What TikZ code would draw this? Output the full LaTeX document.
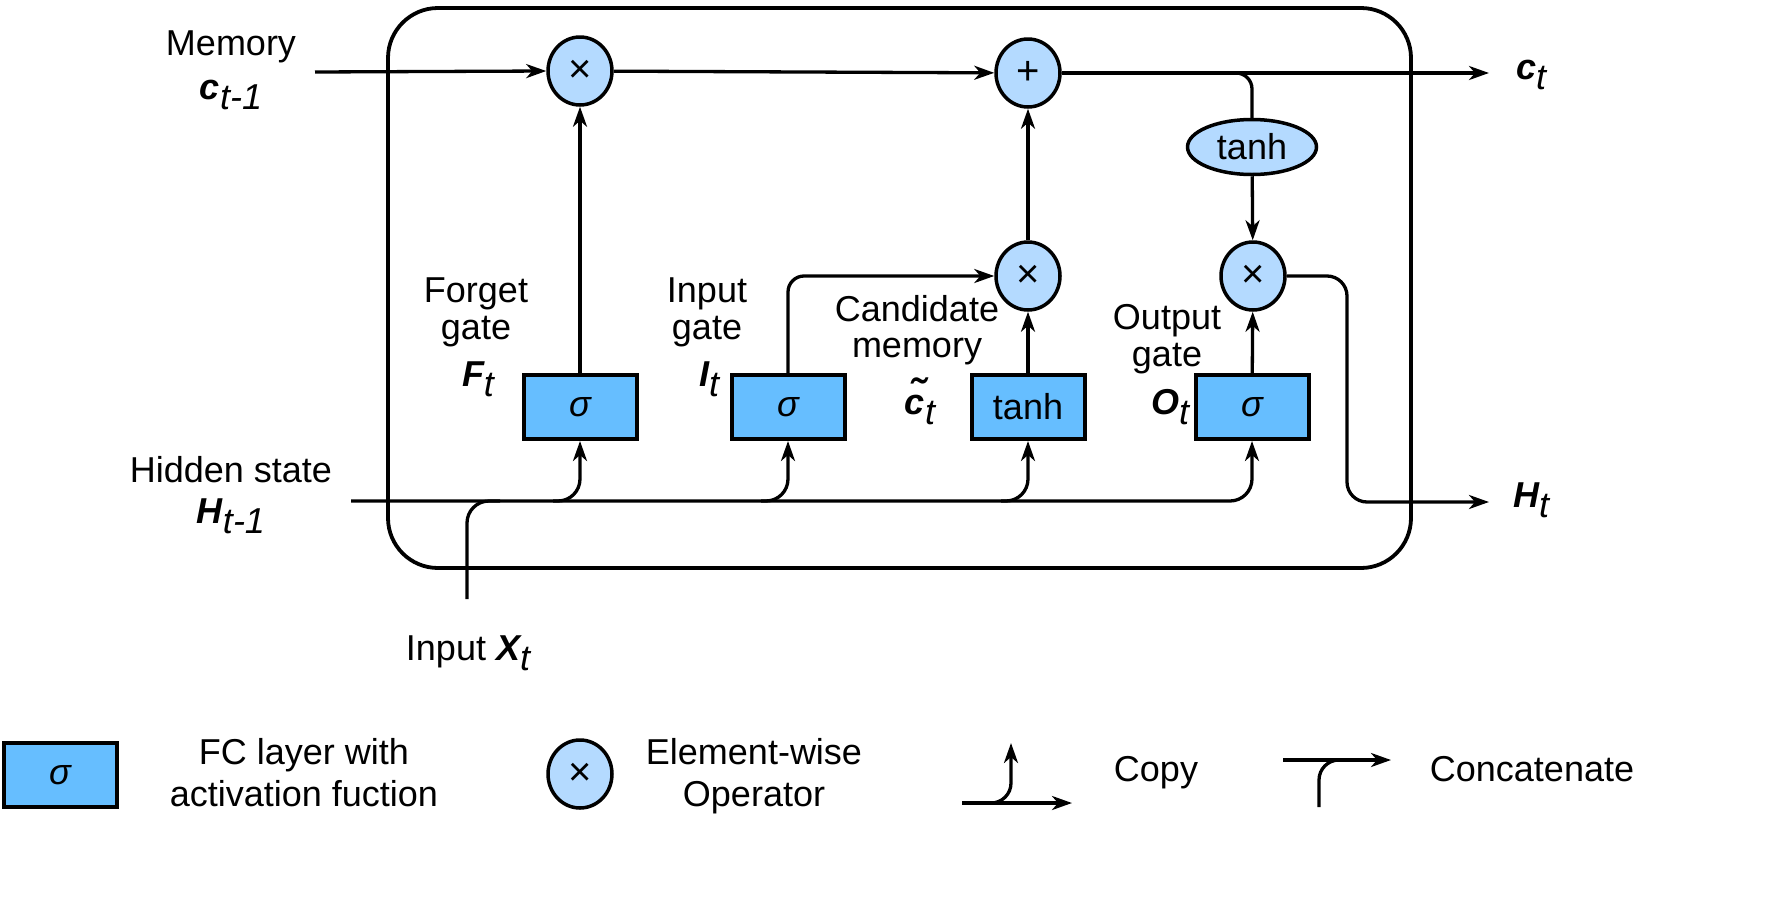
\documentclass[tikz,border=0pt]{standalone}
\usepackage{fontspec}
\setmainfont{Liberation Sans}
\usetikzlibrary{arrows.meta,shapes.geometric,calc}
\definecolor{boxblue}{RGB}{102,190,255}
\definecolor{opblue}{RGB}{180,218,255}
\newcommand{\lbl}[2]{{\bfseries\itshape #1}\raisebox{-0.3em}{\itshape #2}}
\newcommand{\tildec}{\rlap{\raisebox{0.12em}{\kern0.12em\fontsize{44}{44}\selectfont ˜}}c}
\begin{document}
\begin{tikzpicture}[x=1pt,y=-1pt,
  font=\fontsize{36}{41}\selectfont,
  line width=3.3pt,
  arr/.style={-{Stealth[length=20pt,width=14pt,inset=6pt]}},
  layer/.style={draw,line width=4pt,fill=boxblue,minimum width=113pt,minimum height=64pt,inner sep=0pt},
  op/.style={draw,ellipse,fill=opblue,line width=3.5pt,minimum width=64pt,minimum height=68pt,inner sep=0pt},
  txt/.style={inner sep=0pt,anchor=base},
  opsym/.style={font=\fontsize{40}{40}\selectfont}]
\useasboundingbox (0,0) rectangle (1765,919);

% cell frame
\node[draw,line width=3.8pt,rounded corners=50pt,minimum width=1023pt,minimum height=560pt,inner sep=0pt] (cell) at (899.5,288) {};

% operators
\node[op,opsym] (mulF) at (580,71) {×};
\node[op,opsym] (add) at (1028,73) {+};
\node[op,opsym] (mulI) at (1028,276) {×};
\node[op,opsym] (mulO) at (1253,276) {×};
\node[op,minimum width=129pt,minimum height=55pt] (tanhC) at (1252,147) {tanh};

% layers
\node[layer] (fgate) at (580,407) {\itshape σ};
\node[layer] (igate) at (788,407) {\itshape σ};
\node[layer] (cgate) at (1028,407) {tanh};
\node[layer] (ogate) at (1252,407) {\itshape σ};

% outer labels
\node[txt] (memT) at (231,55) {Memory};
\node[txt] (cprev) at (231,99) {\lbl{c}{t-1}};
\node[txt] (hidT) at (231,482) {Hidden state};
\node[txt] (hprev) at (231,523) {\lbl{H}{t-1}};
\node[txt] (xT) at (468,660) {Input \lbl{X}{t}};
\node[txt] (ctT) at (1531,79) {\lbl{c}{t}};
\node[txt] (htT) at (1531,507) {\lbl{H}{t}};

% gate labels
\node[txt] (fg1) at (476,302) {Forget};
\node[txt] (fg2) at (476,339) {gate};
\node[txt] (fg3) at (478,386) {\lbl{F}{t}};
\node[txt] (ig1) at (707,302) {Input};
\node[txt] (ig2) at (707,339) {gate};
\node[txt] (ig3) at (709,386) {\lbl{I}{t}};
\node[txt] (cg1) at (917,321) {Candidate};
\node[txt] (cg2) at (917,357) {memory};
\node[txt] (cg3) at (920,414) {\lbl{\tildec}{t}};
\node[txt] (og1) at (1167,329) {Output};
\node[txt] (og2) at (1167,366) {gate};
\node[txt] (og3) at (1170,414) {\lbl{O}{t}};

% memory path
\coordinate (cin) at (315,72);
\coordinate (cout) at (1489,73);
\coordinate (cbr) at (1210,73);
\draw[arr] (cin) -- (mulF.west);
\draw[arr] (mulF) -- (add);
\draw[arr] (add) -- (cout);
\draw[rounded corners=16pt] (cbr) -| (tanhC.north);
\draw[arr] (tanhC) -- (mulO);

% gates
\draw[arr] (fgate) -- (mulF);
\draw[arr,rounded corners=16pt] (igate.north) |- (mulI.west);
\draw[arr] (cgate) -- (mulI);
\draw[arr] (mulI) -- (add);
\draw[arr] (ogate) -- (mulO);

% hidden output
\coordinate (hout) at (1489,502);
\coordinate (hbend) at (1347,400);
\draw[arr,rounded corners=20pt] (mulO.east) -| (hbend) |- (hout);

% hidden input and copies
\coordinate (hin) at (351,501);
\coordinate (h1) at (553,501);
\coordinate (h2) at (761,501);
\coordinate (h3) at (1001,501);
\draw[arr,rounded corners=22pt] (hin) -| (ogate.south);
\draw[arr,rounded corners=22pt] (h1) -| (fgate.south);
\draw[arr,rounded corners=22pt] (h2) -| (igate.south);
\draw[arr,rounded corners=22pt] (h3) -| (cgate.south);

% input concatenate
\coordinate (xin) at (467,599);
\coordinate (xj) at (500,501);
\draw[rounded corners=22pt] (xin) |- (xj);

% legend
\node[layer] (lgbox) at (60,775) {\itshape σ};
\node[txt] (lg1a) at (304,764) {FC layer with};
\node[txt] (lg1b) at (304,806) {activation fuction};
\node[op,opsym] (lgop) at (580,774) {×};
\node[txt] (lg2a) at (754,764) {Element-wise};
\node[txt] (lg2b) at (754,806) {Operator};

\coordinate (cpA) at (962,803);
\coordinate (cpB) at (1072,803);
\coordinate (cpS) at (990,803);
\coordinate (cpT) at (1011,743);
\draw[arr] (cpA) -- (cpB);
\draw[arr,rounded corners=20pt] (cpS) -| (cpT);
\node[txt] (lg3) at (1156,781) {Copy};

\coordinate (ccA) at (1283,760);
\coordinate (ccB) at (1391,760);
\coordinate (ccS) at (1319,807);
\coordinate (ccT) at (1345,760);
\draw[arr] (ccA) -- (ccB);
\draw[rounded corners=20pt] (ccS) |- (ccT);
\node[txt] (lg4) at (1532,781) {Concatenate};
\end{tikzpicture}
\end{document}
